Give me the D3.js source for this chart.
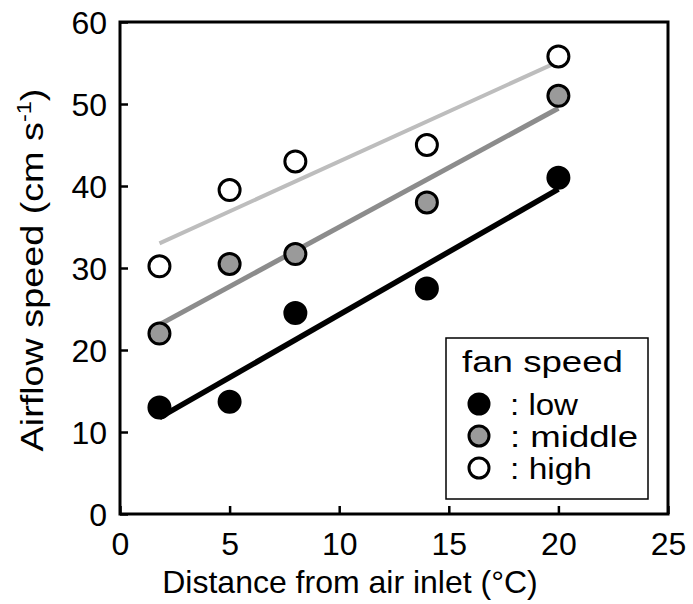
<!DOCTYPE html>
<html>
<head>
<meta charset="utf-8">
<script src="https://cdn.jsdelivr.net/npm/d3@7"></script>
<style>
  body { margin: 0; background: #fff; }
  svg { font-family: "Liberation Sans", Arial, Helvetica, sans-serif; }
</style>
</head>
<body>
<svg id="chart" width="693" height="604"></svg>
<script>
// distance from inlet (x) and airflow speed per fan setting
var distances = [1.8, 5, 8, 14, 20];
var lowSpeed = [13, 13.7, 24.5, 27.5, 41];
var middleSpeed = [22, 30.5, 31.7, 38, 51];
var highSpeed = [30.2, 39.5, 43, 45, 55.8];
var xTicks = [0, 5, 10, 15, 20, 25];
var yTicks = [0, 10, 20, 30, 40, 50, 60];
var seriesNames = ['low', 'middle', 'high'];

var series = [
  { name: 'low', values: lowSpeed, fill: '#000', line: '#000', lw: 5.5 },
  { name: 'middle', values: middleSpeed, fill: '#9a9a9a', line: '#8c8c8c', lw: 5 },
  { name: 'high', values: highSpeed, fill: '#fff', line: '#bdbdbd', lw: 4 }
];

var svg = d3.select('#chart');
var m = { left: 120, right: 668, top: 22, bottom: 514 };

var x = d3.scaleLinear().domain([0, 25]).range([m.left, m.right]);
var y = d3.scaleLinear().domain([0, 60]).range([m.bottom, m.top]);

// least squares fit for each series
function fit(xs, ys) {
  var mx = d3.mean(xs), my = d3.mean(ys);
  var sxy = d3.sum(xs, function (d, i) { return (d - mx) * (ys[i] - my); });
  var sxx = d3.sum(xs, function (d) { return (d - mx) * (d - mx); });
  var b = sxy / sxx;
  return { a: my - b * mx, b: b };
}

// frame
svg.append('rect')
  .attr('x', m.left).attr('y', m.top)
  .attr('width', m.right - m.left).attr('height', m.bottom - m.top)
  .attr('fill', 'none').attr('stroke', '#000').attr('stroke-width', 3);

// axes, ticks pointing inward
var xAxis = d3.axisBottom(x).tickValues(xTicks).tickSize(-8).tickPadding(18).tickFormat(d3.format('d'));
var yAxis = d3.axisLeft(y).tickValues(yTicks).tickSize(-8).tickPadding(13).tickFormat(d3.format('d'));

var gx = svg.append('g').attr('transform', 'translate(0,' + m.bottom + ')').call(xAxis);
var gy = svg.append('g').attr('transform', 'translate(' + m.left + ',0)').call(yAxis);
[gx, gy].forEach(function (g) {
  g.select('.domain').remove();
  g.selectAll('line').attr('stroke', '#000').attr('stroke-width', 2.5);
  g.selectAll('text').attr('fill', '#000').style('font-size', '32px');
});
gx.selectAll('text').attr('dy', '0.71em');
gy.selectAll('text').attr('dy', '0.36em');

// axis titles
svg.append('text')
  .attr('x', 350).attr('y', 593)
  .attr('text-anchor', 'middle')
  .style('font-size', '32px')
  .text('Distance from air inlet (°C)');

var yt = svg.append('text')
  .attr('transform', 'translate(43,270) rotate(-90) scale(1.18,1)')
  .attr('text-anchor', 'middle')
  .style('font-size', '32px');
yt.append('tspan').text('Airflow speed (cm s');
yt.append('tspan').attr('dy', -12).style('font-size', '20px').text('-1');
yt.append('tspan').attr('dy', 12).text(')');

// regression lines
series.forEach(function (s) {
  var f = fit(distances, s.values);
  var x0 = d3.min(distances), x1 = d3.max(distances);
  svg.append('line')
    .attr('x1', x(x0)).attr('y1', y(f.a + f.b * x0))
    .attr('x2', x(x1)).attr('y2', y(f.a + f.b * x1))
    .attr('stroke', s.line).attr('stroke-width', s.lw);
});

// points
series.forEach(function (s) {
  svg.append('g').selectAll('circle')
    .data(s.values)
    .enter().append('circle')
    .attr('cx', function (d, i) { return x(distances[i]); })
    .attr('cy', function (d) { return y(d); })
    .attr('r', 10.5)
    .attr('fill', s.fill)
    .attr('stroke', '#000')
    .attr('stroke-width', 3);
});

// legend
var lg = svg.append('g');
lg.append('rect')
  .attr('x', 446).attr('y', 338).attr('width', 202).attr('height', 161)
  .attr('fill', '#fff').attr('stroke', '#000').attr('stroke-width', 1.5);
lg.append('text').attr('x', 462).attr('y', 372)
  .attr('textLength', 161).attr('lengthAdjust', 'spacingAndGlyphs')
  .style('font-size', '30px').text('fan speed');
var itemWidths = [68, 128, 82];
series.forEach(function (s, i) {
  var cy = 404 + i * 32;
  lg.append('circle')
    .attr('cx', 479).attr('cy', cy).attr('r', 10)
    .attr('fill', s.fill).attr('stroke', '#000').attr('stroke-width', 3);
  lg.append('text')
    .attr('x', 510).attr('y', cy + 11)
    .attr('textLength', itemWidths[i]).attr('lengthAdjust', 'spacingAndGlyphs')
    .style('font-size', '30px')
    .text(': ' + seriesNames[i]);
});
</script>
</body>
</html>
